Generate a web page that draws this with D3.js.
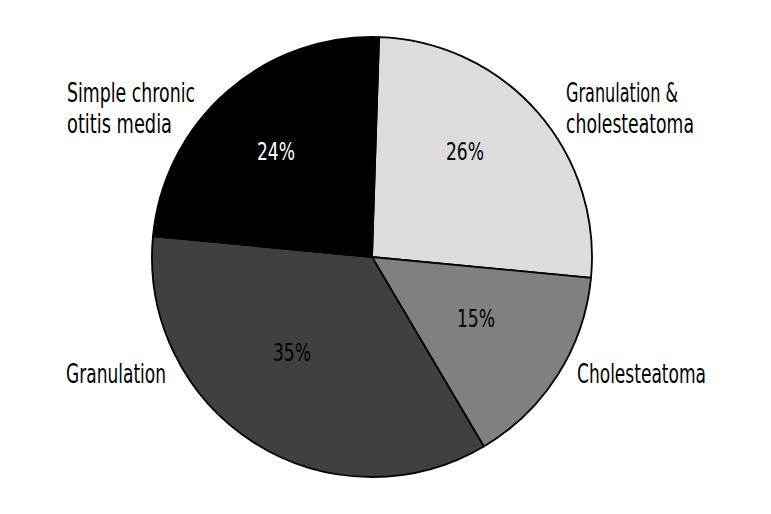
<!DOCTYPE html>
<html>
<head>
<meta charset="utf-8">
<script src="https://cdn.jsdelivr.net/npm/d3@7"></script>
<style>
  body { margin: 0; background: #fff; }
  svg text { font-family: "DejaVu Sans", sans-serif; font-stretch: condensed; }
</style>
</head>
<body>
<svg id="pieSVG"></svg>
<script>
// data, clockwise from 12 o'clock
var categories = ["Granulation & cholesteatoma", "Cholesteatoma", "Granulation", "Simple chronic otitis media"];
var values = [26, 15, 35, 24];

var width = 771, height = 514;
var cx = 372, cy = 257, radius = 220;

var fills = ["#dcdcdc", "#808080", "#404040", "#000000"];
var pctColors = ["#000", "#000", "#000", "#fff"];

var svg = d3.select("#pieSVG")
  .attr("width", width)
  .attr("height", height);

var g = svg.append("g")
  .attr("transform", "translate(" + cx + "," + cy + ")");

var data = categories.map(function (c, i) { return {name: c, value: values[i], i: i}; });

var pie = d3.pie()
  .value(function (d) { return d.value; })
  .sort(null)
  .startAngle(0.032)
  .endAngle(0.032 + 2 * Math.PI);

var arc = d3.arc().innerRadius(0).outerRadius(radius);

var arcs = pie(data);

g.selectAll("path.slice")
  .data(arcs)
  .enter()
  .append("path")
    .attr("class", "slice")
    .attr("d", arc)
    .style("fill", function (d) { return fills[d.data.i]; })
    .style("stroke", "#000")
    .style("stroke-width", 1.8);

// percentages, hand placed like the original
var pctPos = [
  {x: 465, y: 160},
  {x: 476, y: 327},
  {x: 292, y: 361},
  {x: 276, y: 160}
];

svg.selectAll("text.pct")
  .data(data)
  .enter()
  .append("text")
    .attr("class", "pct")
    .attr("x", function (d) { return pctPos[d.i].x - 19; })
    .attr("y", function (d) { return pctPos[d.i].y; })
    .attr("textLength", 38)
    .attr("lengthAdjust", "spacingAndGlyphs")
    .style("font-size", "25px")
    .style("fill", function (d) { return pctColors[d.i]; })
    .text(function (d) { return d.value + "%"; });

// outside labels
var labelLines = [
  ["Granulation &", "cholesteatoma"],
  ["Cholesteatoma"],
  ["Granulation"],
  ["Simple chronic", "otitis media"]
];
var lineWidths = [
  [112, 128],
  [129],
  [100],
  [128, 105]
];
var labelPos = [
  {x: 566, y: 102},
  {x: 577, y: 383},
  {x: 66, y: 383},
  {x: 67, y: 102}
];

svg.selectAll("text.cat")
  .data(data)
  .enter()
  .append("text")
    .attr("class", "cat")
    .style("font-size", "26px")
    .style("fill", "#000")
  .selectAll("tspan")
    .data(function (d) {
      return labelLines[d.i].map(function (l, j) {
        return {t: l, x: labelPos[d.i].x, y: labelPos[d.i].y + j * 31, w: lineWidths[d.i][j]};
      });
    })
    .enter()
    .append("tspan")
      .attr("x", function (d) { return d.x; })
      .attr("y", function (d) { return d.y; })
      .attr("textLength", function (d) { return d.w; })
      .attr("lengthAdjust", "spacingAndGlyphs")
      .text(function (d) { return d.t; });
</script>
</body>
</html>
